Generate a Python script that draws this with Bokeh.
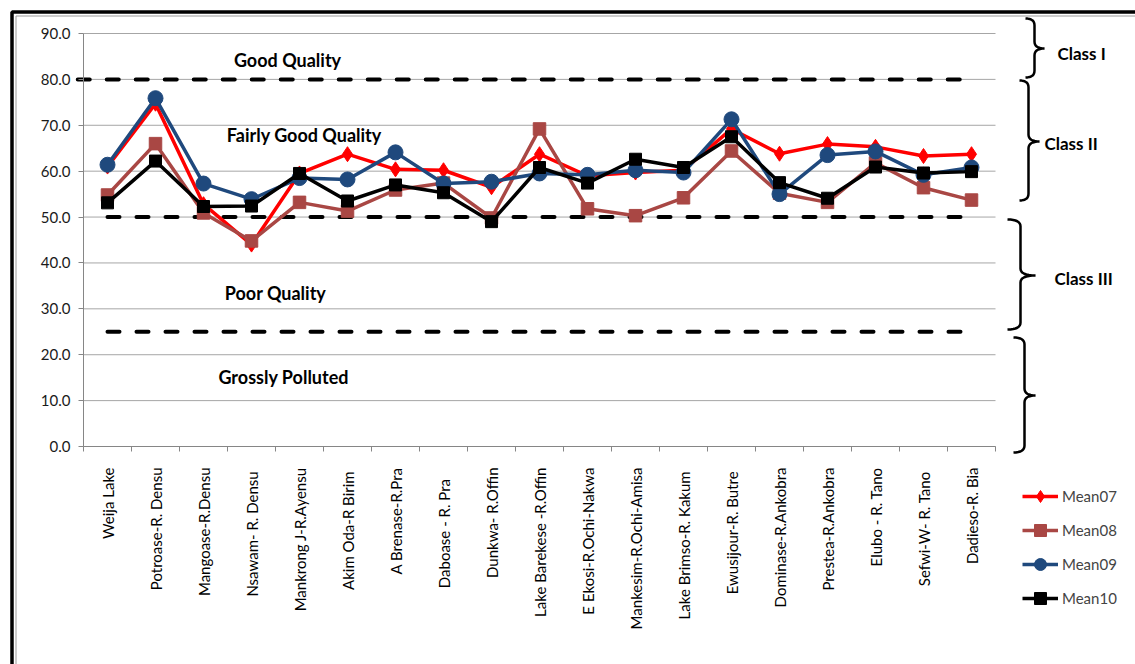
import math

from bokeh.plotting import figure
from bokeh.models import (Range1d, FixedTicker, PrintfTickFormatter, Legend, LegendItem,
                          Label, BoxAnnotation, PolyAnnotation)
from bokeh.embed import file_html
from bokeh.resources import INLINE

# Water quality index per monitoring site, yearly means 2007-2010
sites = [
    "Weija Lake", "Potroase-R. Densu", "Mangoase-R.Densu", "Nsawam-  R. Densu",
    "Mankrong J-R.Ayensu", "Akim Oda-R  Birim", "A Brenase-R.Pra", "Daboase  -  R.  Pra",
    "Dunkwa- R.Offin", "Lake Barekese -R.Offin", "E Ekosi-R.Ochi-Nakwa",
    "Mankesim-R.Ochi-Amisa", "Lake Brimso-R.  Kakum", "Ewusijour-R.  Butre",
    "Dominase-R.Ankobra", "Prestea-R.Ankobra", "Elubo - R. Tano", "Sefwi-W- R.  Tano",
    "Dadieso-R. Bia",
]
mean07 = [61.0, 74.7, 52.8, 44.0, 59.5, 63.7, 60.4, 60.2, 56.5, 63.7,
          59.0, 59.7, 60.2, 69.2, 63.8, 65.9, 65.3, 63.3, 63.7]
mean08 = [54.8, 66.0, 50.9, 44.8, 53.2, 51.3, 55.9, 57.4, 49.8, 69.2,
          51.8, 50.3, 54.2, 64.4, 55.2, 53.2, 61.8, 56.4, 53.7]
mean09 = [61.4, 75.9, 57.3, 53.9, 58.5, 58.2, 64.1, 57.3, 57.7, 59.5,
          59.2, 60.2, 59.7, 71.3, 55.0, 63.5, 64.3, 59.2, 60.8]
mean10 = [53.1, 62.2, 52.3, 52.4, 59.5, 53.5, 57.0, 55.3, 49.0, 60.8,
          57.4, 62.6, 60.8, 67.5, 57.5, 54.1, 60.9, 59.6, 59.9]

y_ticks = [0, 10, 20, 30, 40, 50, 60, 70, 80, 90]
thresholds = [80, 50, 25]
zone_names = ["Good Quality", "Fairly Good Quality", "Poor Quality", "Grossly Polluted"]
zone_pos = [(3.75, 84.2), (4.10, 67.9), (3.50, 33.5), (3.67, 15.2)]
class_names = ["Class I", "Class II", "Class III"]

FONT = "Lato"
W, H = 1135, 664
# plot area inside the canvas, in pixels from the top-left corner
PL, PR, PT, PB = 83, 995, 33, 446

n = len(sites)
xs = list(range(n))
x0, x1 = -0.5, n - 0.5
y0, y1 = y_ticks[0], y_ticks[-1]
kx = (x1 - x0) / (PR - PL)
ky = (y1 - y0) / (PB - PT)

# the frame covers the whole canvas; axes sit at fixed data locations
p = figure(width=W, height=H, output_backend="svg", toolbar_location=None,
           x_range=Range1d(x0 - PL * kx, x1 + (W - PR) * kx),
           y_range=Range1d(y0 - (H - PB) * ky, y1 + PT * ky),
           min_border_left=0, min_border_right=0, min_border_top=0, min_border_bottom=0)
p.outline_line_color = None
p.background_fill_color = "white"
p.border_fill_color = "white"
p.xgrid.grid_line_color = None
p.ygrid.grid_line_color = None

# horizontal gridlines across the plot area
p.segment(x0=[x0] * len(y_ticks), x1=[x1] * len(y_ticks), y0=y_ticks, y1=y_ticks,
          line_color="#a6a6a6", line_width=1)

xax = p.xaxis[0]
xax.fixed_location = y0
xax.bounds = (x0, x1)
xax.ticker = FixedTicker(ticks=xs, minor_ticks=[i - 0.5 for i in range(n + 1)])
xax.major_label_overrides = {i: s for i, s in enumerate(sites)}
xax.major_label_orientation = math.pi / 2
xax.major_tick_in = 0
xax.major_tick_out = 0
xax.minor_tick_in = 0
xax.minor_tick_out = 5
xax.minor_tick_line_color = "#868686"
xax.axis_line_color = "#868686"
xax.major_label_text_font = FONT
xax.major_label_text_font_size = "15px"
xax.major_label_text_color = "#000000"
xax.major_label_standoff = 16

yax = p.yaxis[0]
yax.fixed_location = x0
yax.bounds = (y0, y1)
yax.ticker = FixedTicker(ticks=y_ticks)
yax.formatter = PrintfTickFormatter(format="%.1f")
yax.major_tick_in = 0
yax.major_tick_out = 5
yax.minor_tick_line_color = None
yax.major_tick_line_color = "#868686"
yax.axis_line_color = "#868686"
yax.major_label_text_font = FONT
yax.major_label_text_font_size = "15px"
yax.major_label_text_color = "#1a1a1a"
yax.major_label_standoff = 8

# class boundaries
for t in thresholds:
    start = -0.62 if t == 80 else 0
    p.line([start, n - 1], [t, t], line_color="black", line_width=4,
           line_dash="12 17", line_cap="round")

# series
series = [
    ("Mean07", mean07, "#ff0000", "diamond", 15),
    ("Mean08", mean08, "#a94744", "square", 12.5),
    ("Mean09", mean09, "#1f497d", "circle", 15),
    ("Mean10", mean10, "#000000", "square", 12),
]
items = []
for name, vals, color, marker, size in series:
    ln = p.line(xs, vals, line_color=color, line_width=3.5)
    sc = p.scatter(xs, vals, marker=marker, size=size,
                   fill_color=color, line_color=color)
    items.append(LegendItem(label=name, renderers=[ln, sc]))

# legend below the class braces (bottom-left corner, canvas px)
legend = Legend(items=items, location=(1022, H - 613), padding=0, margin=0,
                glyph_width=36, glyph_height=30, label_height=30, spacing=4,
                label_standoff=4, label_text_font=FONT, label_text_font_size="15px",
                border_line_color=None, background_fill_alpha=0)
p.add_layout(legend, "center")

# zone captions
for txt, (zx, zy) in zip(zone_names, zone_pos):
    p.add_layout(Label(x=zx, y=zy, text=txt, text_align="center", text_baseline="middle",
                       text_font=FONT, text_font_style="bold", text_font_size="18px",
                       text_color="black"))

# class captions beside the braces (canvas px: left edge, middle)
for txt, (cx, cy) in zip(class_names, [(1057, 53), (1044, 143), (1054, 278)]):
    p.add_layout(Label(x=cx, y=H - cy, x_units="screen", y_units="screen", text=txt,
                       text_align="left", text_baseline="middle", text_font=FONT,
                       text_font_style="bold", text_font_size="17px", text_color="black"))


def quad(a, c, b, steps=8):
    pts = []
    for k in range(1, steps + 1):
        t = k / steps
        pts.append(((1 - t) ** 2 * a[0] + 2 * (1 - t) * t * c[0] + t ** 2 * b[0],
                    (1 - t) ** 2 * a[1] + 2 * (1 - t) * t * c[1] + t ** 2 * b[1]))
    return pts


def brace(xl, xv, xt, top, bottom, mid, r=7):
    pts = [(xl, top)]
    pts += quad((xl, top), (xv, top), (xv, top + r))
    pts.append((xv, mid - r))
    pts += quad((xv, mid - r), (xv, mid), (xt, mid))
    pts += quad((xt, mid), (xv, mid), (xv, mid + r))
    pts.append((xv, bottom - r))
    pts += quad((xv, bottom - r), (xv, bottom), (xl, bottom))
    path = pts + pts[::-1]
    return [x for x, _ in path], [H - y for _, y in path]


for spec in [(1025, 1034, 1044, 18, 77, 48), (1019, 1028, 1039, 80, 200, 141),
             (1007, 1020, 1035, 219, 329, 275), (1013, 1024, 1035, 337, 452, 395)]:
    bx, by = brace(*spec)
    p.add_layout(PolyAnnotation(xs=bx, ys=by, xs_units="screen", ys_units="screen",
                                fill_alpha=0, line_color="black", line_alpha=1,
                                line_width=2.5))

# chart area border
for edge, color, lw in [(11.5, "black", 3.5), (15.5, "#9a9a9a", 1)]:
    p.add_layout(BoxAnnotation(left=edge, right=W + 60, top=H - edge, bottom=-60,
                               left_units="screen", right_units="screen",
                               top_units="screen", bottom_units="screen",
                               fill_alpha=0, line_color=color, line_alpha=1,
                               line_width=lw))

open("out.html", "w").write(file_html(p, INLINE))
